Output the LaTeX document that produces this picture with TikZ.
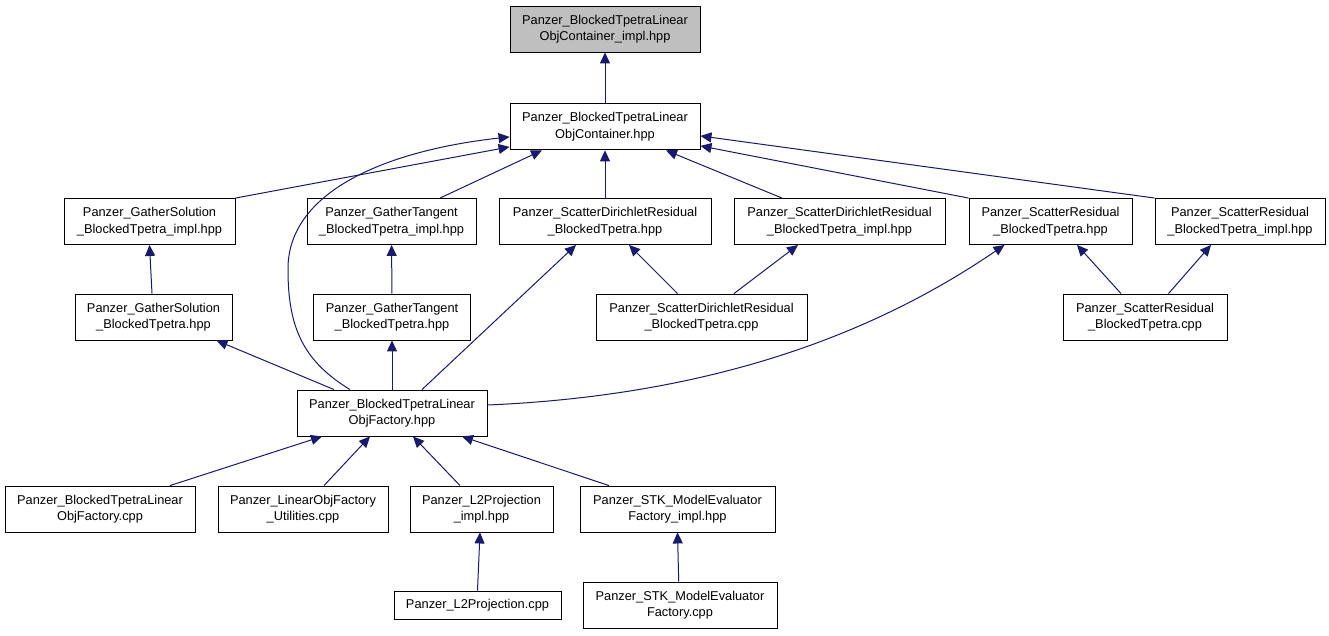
\documentclass[tikz,border=0pt]{standalone}
\usepackage{fontspec}
\setmainfont{Liberation Sans}
\usetikzlibrary{arrows.meta,positioning}
\definecolor{edgeBlue}{HTML}{191970}
\definecolor{softGray}{HTML}{BFBFBF}

\begin{document}
\begin{tikzpicture}[x=1pt, y=-1pt,
    box/.style={draw, line width=0.9pt, minimum height=46pt, inner sep=0pt, align=center, font=\fontsize{12.8}{16.5}\selectfont},
    graybox/.style={box, fill=softGray},
    arr/.style={-{Triangle[length=11pt, width=10pt]}, color=edgeBlue, line width=1pt}
  ]
    \useasboundingbox[fill=white] (0,0) rectangle (1329,635);
    \node[graybox, minimum width=190pt] (implH) at (605,29) {Panzer\_BlockedTpetraLinear\\ObjContainer\_impl.hpp};
    \node[box, minimum width=190pt, below=51pt of implH] (contH) {Panzer\_BlockedTpetraLinear\\ObjContainer.hpp};
    \node[box, minimum width=171pt] (gsImplH) at (149.5,221.5) {Panzer\_GatherSolution\\\_BlockedTpetra\_impl.hpp};
    \node[box, minimum width=169pt] (gtImplH) at (391.5,221.5) {Panzer\_GatherTangent\\\_BlockedTpetra\_impl.hpp};
    \node[box, minimum width=212pt] (sdH) at (605,221.5) {Panzer\_ScatterDirichletResidual\\\_BlockedTpetra.hpp};
    \node[box, minimum width=211pt] (sdImplH) at (839.5,221.5) {Panzer\_ScatterDirichletResidual\\\_BlockedTpetra\_impl.hpp};
    \node[box, minimum width=163pt] (srH) at (1050.5,221.5) {Panzer\_ScatterResidual\\\_BlockedTpetra.hpp};
    \node[box, minimum width=170pt] (srImplH) at (1240,221.5) {Panzer\_ScatterResidual\\\_BlockedTpetra\_impl.hpp};
    \node[box, minimum width=157pt] (gsH) at (153.5,317) {Panzer\_GatherSolution\\\_BlockedTpetra.hpp};
    \node[box, minimum width=157pt] (gtH) at (392,317) {Panzer\_GatherTangent\\\_BlockedTpetra.hpp};
    \node[box, minimum width=211pt] (sdCpp) at (701.5,317) {Panzer\_ScatterDirichletResidual\\\_BlockedTpetra.cpp};
    \node[box, minimum width=164pt] (srCpp) at (1145,317) {Panzer\_ScatterResidual\\\_BlockedTpetra.cpp};
    \node[box, minimum width=190pt] (factH) at (392,413) {Panzer\_BlockedTpetraLinear\\ObjFactory.hpp};
    \node[box, minimum width=190pt] (factCpp) at (100,509) {Panzer\_BlockedTpetraLinear\\ObjFactory.cpp};
    \node[box, minimum width=170pt] (utilCpp) at (303,509) {Panzer\_LinearObjFactory\\\_Utilities.cpp};
    \node[box, minimum width=143pt] (l2Impl) at (481.5,509) {Panzer\_L2Projection\\\_impl.hpp};
    \node[box, minimum width=195pt] (stkImpl) at (677.5,509) {Panzer\_STK\_ModelEvaluator\\Factory\_impl.hpp};
    \node[box, minimum width=167pt, minimum height=28pt] (l2Cpp) at (477.5,605) {Panzer\_L2Projection.cpp};
    \node[box, minimum width=194pt] (stkCpp) at (680,605) {Panzer\_STK\_ModelEvaluator\\Factory.cpp};
    \draw[arr] (contH) -- (implH);
    \draw[arr] (gsImplH.north east) -- ([yshift=-20pt]contH.west);
    \draw[arr] ([xshift=-42pt]factH.north) .. controls (305,362) and (288,330) .. (288,270) .. controls (287,190) and (390,150) .. ([yshift=-10pt]contH.west);
    \draw[arr] ([xshift=48.5pt]gtImplH.north) -- ([xshift=-63pt]contH.south);
    \draw[arr] (sdH) -- (contH);
    \draw[arr] ([xshift=-57.5pt]sdImplH.north) -- ([xshift=61pt]contH.south);
    \draw[arr] (srH.north west) -- ([yshift=-19pt]contH.east);
    \draw[arr] (srImplH.north west) -- ([yshift=-9pt]contH.east);
    \draw[arr] ([xshift=-1.5pt]gsH.north) -- (gsImplH.south);
    \draw[arr] (gtH) -- (gtImplH);
    \draw[arr] ([xshift=-24pt]sdCpp.north) -- ([xshift=24pt]sdH.south);
    \draw[arr] ([xshift=32.5pt]sdCpp.north) -- ([xshift=-41.5pt]sdImplH.south);
    \draw[arr] ([xshift=-24pt]srCpp.north) -- ([xshift=26.5pt]srH.south);
    \draw[arr] ([xshift=23.5pt]srCpp.north) -- ([xshift=-29pt]srImplH.south);
    \draw[arr] ([xshift=-58pt]factH.north) -- ([xshift=63pt]gsH.south);
    \draw[arr] (factH) -- (gtH);
    \draw[arr] ([xshift=30pt]factH.north) -- ([xshift=-29pt]sdH.south);
    \draw[arr] ([yshift=8pt]factH.east) .. controls (720,395) and (880,330) .. ([xshift=-46pt]srH.south);
    \draw[arr] ([xshift=70pt]factCpp.north) -- ([xshift=-70pt]factH.south);
    \draw[arr] ([xshift=21pt]utilCpp.north) -- ([xshift=-22pt]factH.south);
    \draw[arr] ([xshift=-21.5pt]l2Impl.north) -- ([xshift=21pt]factH.south);
    \draw[arr] ([xshift=-68.6pt]stkImpl.north) -- ([xshift=70pt]factH.south);
    \draw[arr] (l2Cpp.north) -- ([xshift=-1.5pt]l2Impl.south);
    \draw[arr] ([xshift=-1.3pt]stkCpp.north) -- (stkImpl.south);
  \end{tikzpicture}
\end{document}
